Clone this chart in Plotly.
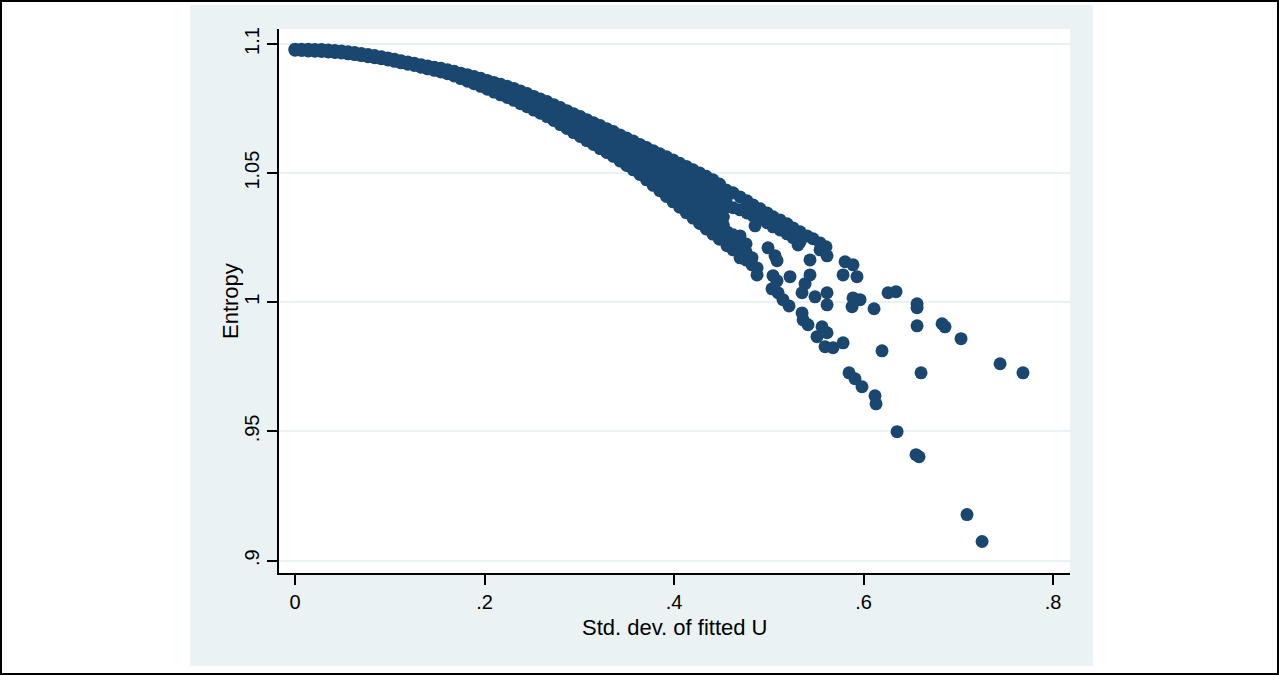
import plotly.graph_objects as go

# ---------------- data ----------------
# dense band: column x-positions and the entropy values stacked in each column
band_x = [0.000, 0.007, 0.014, 0.021, 0.028, 0.035, 0.042, 0.049, 0.056, 0.063,
          0.070, 0.077, 0.084, 0.091, 0.098, 0.105, 0.112, 0.119, 0.126, 0.133,
          0.140, 0.147, 0.154, 0.161, 0.168, 0.175, 0.182, 0.189, 0.196, 0.203,
          0.210, 0.217, 0.224, 0.231, 0.238, 0.245, 0.252, 0.259, 0.266, 0.273,
          0.280, 0.287, 0.294, 0.301, 0.308, 0.315, 0.322, 0.329, 0.336, 0.343,
          0.350, 0.357, 0.364, 0.371, 0.378, 0.385, 0.392, 0.399, 0.406, 0.413,
          0.420, 0.427, 0.434, 0.441, 0.448, 0.452]
band_y = [
    [1.0980, 1.0976], [1.0980, 1.0975], [1.0980, 1.0973], [1.0979, 1.0972],
    [1.0979, 1.0971], [1.0977, 1.0969], [1.0975, 1.0967], [1.0973, 1.0965],
    [1.0970, 1.0962], [1.0967, 1.0959], [1.0963, 1.0955], [1.0959, 1.0951],
    [1.0955, 1.0947], [1.0951, 1.0943], [1.0946, 1.0938], [1.0941, 1.0933],
    [1.0935, 1.0927], [1.0930, 1.0922], [1.0925, 1.0917], [1.0920, 1.0910],
    [1.0915, 1.0904], [1.0910, 1.0898], [1.0906, 1.0892], [1.0900, 1.0885],
    [1.0894, 1.0876], [1.0887, 1.0866], [1.0881, 1.0856], [1.0874, 1.0846],
    [1.0867, 1.0836], [1.0859, 1.0825],
    [1.0851, 1.0832, 1.0814], [1.0844, 1.0823, 1.0803], [1.0836, 1.0814, 1.0793],
    [1.0828, 1.0805, 1.0782], [1.0818, 1.0793, 1.0769], [1.0808, 1.0782, 1.0757],
    [1.0797, 1.0770, 1.0744], [1.0787, 1.0759, 1.0732], [1.0777, 1.0748, 1.0719],
    [1.0765, 1.0735, 1.0704], [1.0754, 1.0721, 1.0688],
    [1.0742, 1.0719, 1.0696, 1.0673], [1.0730, 1.0706, 1.0681, 1.0657],
    [1.0719, 1.0693, 1.0668, 1.0642], [1.0707, 1.0680, 1.0653, 1.0626],
    [1.0695, 1.0667, 1.0639, 1.0611], [1.0684, 1.0654, 1.0625, 1.0595],
    [1.0672, 1.0641, 1.0611, 1.0580], [1.0661, 1.0629, 1.0597, 1.0565],
    [1.0648, 1.0623, 1.0598, 1.0572, 1.0547],
    [1.0636, 1.0610, 1.0583, 1.0557, 1.0530],
    [1.0624, 1.0596, 1.0569, 1.0541, 1.0513],
    [1.0611, 1.0582, 1.0553, 1.0524, 1.0495],
    [1.0599, 1.0568, 1.0537, 1.0505, 1.0474],
    [1.0587, 1.0560, 1.0533, 1.0507, 1.0480, 1.0453],
    [1.0575, 1.0546, 1.0518, 1.0489, 1.0461, 1.0432],
    [1.0563, 1.0532, 1.0502, 1.0471, 1.0441, 1.0410],
    [1.0551, 1.0519, 1.0486, 1.0454, 1.0421, 1.0389],
    [1.0538, 1.0510, 1.0481, 1.0453, 1.0425, 1.0396, 1.0368],
    [1.0526, 1.0496, 1.0466, 1.0437, 1.0407, 1.0377, 1.0347],
    [1.0513, 1.0482, 1.0451, 1.0420, 1.0388, 1.0357, 1.0326],
    [1.0501, 1.0468, 1.0436, 1.0403, 1.0370, 1.0338, 1.0305],
    [1.0488, 1.0459, 1.0430, 1.0401, 1.0371, 1.0342, 1.0313, 1.0284],
    [1.0474, 1.0444, 1.0414, 1.0384, 1.0354, 1.0324, 1.0294, 1.0264],
    [1.0458, 1.0427, 1.0397, 1.0366, 1.0336, 1.0305, 1.0275, 1.0244],
    [1.0360, 1.0330, 1.0300],
]

# upper ribbon that continues beyond the dense band
ribbon_x = [0.4549, 0.4623, 0.4697, 0.4770, 0.4834, 0.4908, 0.4982, 0.5045,
            0.5119, 0.5193, 0.5256, 0.5330, 0.5404, 0.5467, 0.5541, 0.5604,
            0.4549, 0.4623, 0.4697, 0.4770, 0.4834, 0.4908, 0.4982, 0.5045,
            0.5119, 0.5193, 0.5256, 0.5330, 0.5541, 0.5615]
ribbon_y = [1.0435, 1.0424, 1.0408, 1.0393, 1.0377, 1.0362, 1.0346, 1.0331,
            1.0319, 1.0304, 1.0288, 1.0273, 1.0257, 1.0246, 1.0230, 1.0215,
            1.0397, 1.0366, 1.0358, 1.0346, 1.0335, 1.0323, 1.0308, 1.0292,
            1.0280, 1.0265, 1.0250, 1.0234, 1.0203, 1.0180]

# lower cluster just below the gap
cluster_x = [0.4559, 0.4559, 0.4559, 0.4623, 0.4623, 0.4623, 0.4697, 0.4697,
             0.4697, 0.4697, 0.4760, 0.4760, 0.4760, 0.4823, 0.4823, 0.4876,
             0.4876, 0.4855]
cluster_y = [1.0273, 1.0242, 1.0219, 1.0261, 1.0230, 1.0203, 1.0257, 1.0226,
             1.0195, 1.0172, 1.0226, 1.0195, 1.0164, 1.0172, 1.0145, 1.0133,
             1.0106, 1.0296]

# scattered points in the tail
tail_x = [0.4992, 0.5066, 0.5087, 0.5045, 0.5087, 0.5034, 0.5098, 0.5150,
          0.5214, 0.5224, 0.5309, 0.5435, 0.5435, 0.5383, 0.5351, 0.5488,
          0.5615, 0.5615, 0.5351, 0.5362, 0.5414, 0.5562, 0.5509, 0.5615,
          0.5594, 0.5678, 0.5784, 0.5805, 0.5889, 0.5784, 0.5931, 0.5889,
          0.5963, 0.5879, 0.6111, 0.6195, 0.6259, 0.6343, 0.5847, 0.5910,
          0.5984, 0.6121, 0.6132, 0.6354, 0.6554, 0.6586, 0.7092, 0.7251,
          0.6565, 0.6565, 0.6565, 0.6829, 0.6860, 0.7029, 0.7441, 0.7683,
          0.6607]
tail_y = [1.0211, 1.0180, 1.0161, 1.0103, 1.0083, 1.0052, 1.0037, 1.0010,
          0.9986, 1.0099, 1.0222, 1.0164, 1.0106, 1.0072, 1.0037, 1.0021,
          1.0037, 0.9990, 0.9959, 0.9932, 0.9913, 0.9905, 0.9867, 0.9882,
          0.9828, 0.9824, 0.9843, 1.0157, 1.0145, 1.0106, 1.0099, 1.0017,
          1.0010, 0.9983, 0.9975, 0.9812, 1.0037, 1.0041, 0.9727, 0.9704,
          0.9673, 0.9638, 0.9607, 0.9499, 0.9410, 0.9402, 0.9178, 0.9074,
          0.9979, 0.9994, 0.9909, 0.9917, 0.9905, 0.9859, 0.9762, 0.9727,
          0.9727]

x_ticks = [0, 0.2, 0.4, 0.6, 0.8]
x_tick_text = ["0", ".2", ".4", ".6", ".8"]
y_ticks = [0.9, 0.95, 1.0, 1.05, 1.1]
y_tick_text = [".9", ".95", "1", "1.05", "1.1"]
x_title = "Std. dev. of fitted U"
y_title = "Entropy"

# ---------------- build ----------------
xs, ys = [], []
for cx, col in zip(band_x, band_y):
    for v in col:
        xs.append(cx)
        ys.append(v)
xs += ribbon_x + cluster_x + tail_x
ys += ribbon_y + cluster_y + tail_y

NAVY = "#1a476f"
BG = "#eaf2f3"
FONT = "Liberation Sans, Arial, sans-serif"

fig = go.Figure()
fig.add_trace(go.Scatter(
    x=xs, y=ys, mode="markers",
    marker=dict(color=NAVY, size=13, line=dict(width=0)),
    hoverinfo="skip", showlegend=False,
))

L, R, T, B = 279, 209, 29, 102
W, H = 1279, 675
pw, ph = W - L - R, H - T - B

def px2paper_x(px):
    return (px - L) / pw

def py2paper_y(py):
    return (H - B - py) / ph

shapes = [
    # light graph-region background
    dict(type="rect", xref="paper", yref="paper", layer="below",
         x0=px2paper_x(190), x1=px2paper_x(1093), y0=py2paper_y(666), y1=py2paper_y(5),
         fillcolor=BG, line=dict(width=0)),
    # white plot region
    dict(type="rect", xref="paper", yref="paper", layer="below",
         x0=0, x1=1, y0=0, y1=1, fillcolor="white", line=dict(width=0)),
    # outer black frame
    dict(type="rect", xref="paper", yref="paper", layer="above",
         x0=px2paper_x(1), x1=px2paper_x(1278), y0=py2paper_y(674), y1=py2paper_y(1),
         fillcolor="rgba(0,0,0,0)", line=dict(color="black", width=2)),
]

annotations = [
    dict(text=y_title, xref="paper", yref="paper", x=px2paper_x(230), y=0.5,
         textangle=-90, showarrow=False, xanchor="center", yanchor="middle",
         font=dict(family=FONT, size=22, color="black")),
    dict(text=x_title, xref="paper", yref="paper", x=0.5, y=py2paper_y(627),
         showarrow=False, xanchor="center", yanchor="middle",
         font=dict(family=FONT, size=22, color="black")),
]

axis_common = dict(
    zeroline=False, showline=True, linecolor="black", linewidth=2,
    ticks="outside", ticklen=10, tickwidth=2, tickcolor="black",
    tickfont=dict(family=FONT, size=20, color="black"),
    layer="above traces",
)

fig.update_layout(
    width=W, height=H, autosize=False,
    margin=dict(l=L, r=R, t=T, b=B, pad=0),
    paper_bgcolor="white", plot_bgcolor="white",
    shapes=shapes, annotations=annotations,
    font=dict(family=FONT, color="black"),
    xaxis=dict(range=[-0.0169, 0.8179], tickvals=x_ticks, ticktext=x_tick_text,
               showgrid=False, **axis_common),
    yaxis=dict(range=[0.8952, 1.1058], tickvals=y_ticks, ticktext=y_tick_text,
               tickangle=-90, showgrid=True, gridcolor=BG, gridwidth=1.5,
               **axis_common),
)

fig.write_html("out.html")
